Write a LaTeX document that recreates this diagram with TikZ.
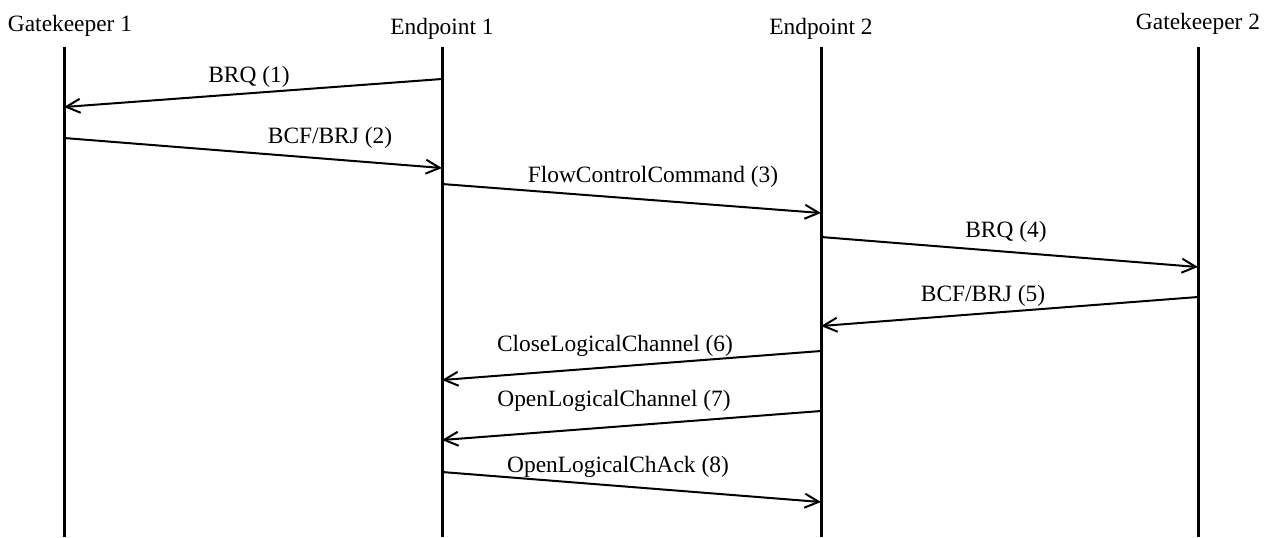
\documentclass[tikz,border=0pt]{standalone}
\usepackage{fontspec}
\setmainfont{Liberation Serif}
\usetikzlibrary{arrows.meta}

\begin{document}
\begin{tikzpicture}[x=0.5pt,y=-0.5pt,
	lifeline/.style={line width=1.5pt},
	msg/.style={line width=1pt,-{Straight Barb[length=7pt,width=7pt]}},
	lbl/.style={inner sep=0pt,font=\fontsize{11.7}{14}\selectfont}]
	\useasboundingbox (0,0) rectangle (1264,537);
	% participants
	\node[lbl] (gk1) at (70,26) {Gatekeeper 1};
	\node[lbl] (ep1) at (442,29) {Endpoint 1};
	\node[lbl] (ep2) at (821,29) {Endpoint 2};
	\node[lbl] (gk2) at (1198,24) {Gatekeeper 2};
	\coordinate (gk1top) at (64,47); \coordinate (gk1bot) at (64,537);
	\coordinate (ep1top) at (442,47); \coordinate (ep1bot) at (442,537);
	\coordinate (ep2top) at (821,47); \coordinate (ep2bot) at (821,537);
	\coordinate (gk2top) at (1198,47); \coordinate (gk2bot) at (1198,537);
	\draw[lifeline] (gk1top) -- (gk1bot);
	\draw[lifeline] (ep1top) -- (ep1bot);
	\draw[lifeline] (ep2top) -- (ep2bot);
	\draw[lifeline] (gk2top) -- (gk2bot);
	
	% messages
	\coordinate (m1s) at (442,79); \coordinate (m1e) at (64,107);
	\draw[msg] (m1s) -- (m1e); \node[lbl] (m1) at (249,77) {BRQ (1)};
	\coordinate (m2s) at (64,138); \coordinate (m2e) at (442,168);
	\draw[msg] (m2s) -- (m2e); \node[lbl] (m2) at (330,138) {BCF/BRJ (2)};
	\coordinate (m3s) at (442,184); \coordinate (m3e) at (821,213);
	\draw[msg] (m3s) -- (m3e); \node[lbl] (m3) at (653,177) {FlowControlCommand (3)};
	\coordinate (m4s) at (821,237); \coordinate (m4e) at (1198,267);
	\draw[msg] (m4s) -- (m4e); \node[lbl] (m4) at (1006,232) {BRQ (4)};
	\coordinate (m5s) at (1198,297); \coordinate (m5e) at (821,326);
	\draw[msg] (m5s) -- (m5e); \node[lbl] (m5) at (983,296) {BCF/BRJ (5)};
	\coordinate (m6s) at (821,351); \coordinate (m6e) at (442,380);
	\draw[msg] (m6s) -- (m6e); \node[lbl] (m6) at (615,346) {CloseLogicalChannel (6)};
	\coordinate (m7s) at (821,411); \coordinate (m7e) at (442,440);
	\draw[msg] (m7s) -- (m7e); \node[lbl] (m7) at (614,401) {OpenLogicalChannel (7)};
	\coordinate (m8s) at (442,472); \coordinate (m8e) at (821,502);
	\draw[msg] (m8s) -- (m8e); \node[lbl] (m8) at (618,467) {OpenLogicalChAck (8)};
\end{tikzpicture}
\end{document}
